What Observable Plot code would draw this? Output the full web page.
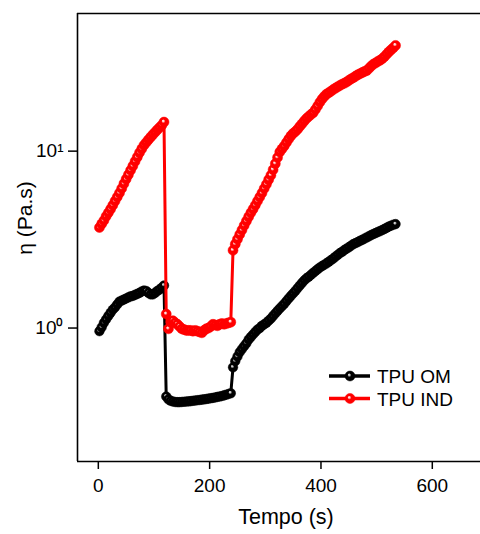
<!DOCTYPE html>
<html><head><meta charset="utf-8">
<script src="https://cdn.jsdelivr.net/npm/d3@7"></script>
<script src="https://cdn.jsdelivr.net/npm/@observablehq/plot@0.6"></script>
<style>
body{margin:0;background:#fff}
#chart{position:relative;width:480px;height:534px}
#chart svg [aria-label$="axis tick"] path{stroke-width:1.5px}
#chart svg .tick line{stroke-width:1.5px}
</style>
</head><body><div id="chart"></div>
<script>
const tempo = [2,6,10,14,18,22,26,30,34,38,42,46,50,54,58,62,66,70,74,78,82,86,90,94,98,102,106,110,114,118,
122,126,130,134,138,142,146,150,154,158,162,166,170,174,178,182,186,190,194,198,202,206,210,214,218,222,226,230,234,238,
242,246,250,254,258,262,266,270,274,278,282,286,290,294,298,302,306,310,314,318,322,326,330,334,338,342,346,350,354,358,
362,366,370,374,378,382,386,390,394,398,402,406,410,414,418,422,426,430,434,438,442,446,450,454,458,462,466,470,474,478,
482,486,490,494,498,502,506,510,514,518,522,526,530,534];

const omValues = [0.96,1.01,1.07,1.12,1.17,1.22,1.27,1.31,1.36,1.41,1.43,1.45,1.47,1.49,1.51,1.52,1.54,1.56,1.58,1.61,1.63,1.62,1.58,1.55,1.55,1.58,1.62,1.65,1.69,1.74,
0.41,0.395,0.388,0.384,0.382,0.381,0.381,0.382,0.383,0.384,0.385,0.386,0.388,0.389,0.391,0.392,0.394,0.395,0.397,0.399,0.401,0.403,0.405,0.408,0.410,0.413,0.416,0.420,0.424,0.428,
0.60,0.65,0.69,0.73,0.76,0.79,0.82,0.86,0.89,0.92,
0.95,0.98,1.00,1.03,1.05,1.07,1.10,1.13,1.17,1.21,
1.25,1.29,1.33,1.37,1.42,1.47,1.52,1.57,1.62,1.68,
1.74,1.80,1.86,1.91,1.95,2.00,2.05,2.10,2.15,2.20,
2.24,2.28,2.32,2.37,2.42,2.47,2.53,2.59,2.65,2.70,
2.76,2.81,2.86,2.92,2.98,3.02,3.06,3.11,3.15,3.20,
3.25,3.30,3.35,3.40,3.44,3.49,3.53,3.58,3.63,3.69,
3.75,3.79,3.84,3.87];

const indValues = [3.70,3.88,4.05,4.28,4.48,4.70,4.95,5.22,5.50,5.80,6.15,6.55,6.95,7.35,7.80,8.25,8.75,9.25,9.80,10.3,10.8,11.2,11.6,12.0,12.4,12.8,13.2,13.6,14.0,14.6,
1.20,0.99,1.08,1.10,1.07,1.05,1.02,0.99,0.98,0.97,0.97,0.97,0.96,0.97,0.96,0.95,0.94,0.97,0.99,1.00,1.02,1.05,1.04,1.03,1.05,1.06,1.05,1.06,1.07,1.08,
2.75,2.98,3.18,3.38,3.58,3.80,4.02,4.25,4.48,4.70,
4.95,5.22,5.50,5.80,6.15,6.50,6.90,7.30,7.85,8.50,
9.20,9.90,10.3,10.7,11.2,11.7,12.2,12.6,12.9,13.3,
13.8,14.3,14.8,15.3,15.7,16.1,16.5,17.2,18.0,18.9,
19.7,20.4,21.0,21.4,21.8,22.3,22.7,23.1,23.5,23.9,
24.2,24.6,25.1,25.6,26.0,26.5,27.0,27.4,27.8,28.2,
28.5,29.3,30.2,31.0,31.5,32.1,32.6,33.3,34.2,35.3,
36.4,37.4,38.4,39.6];

const seriesNames = ["TPU OM", "TPU IND"];
const seriesColors = ["#000000", "#ff0000"];
const xTicks = [0, 200, 400, 600];
const yTicks = [1, 10];
const yTickLabels = ["10\u2070", "10\u00B9"];
const xTitle = "Tempo (s)";
const yTitle = "\u03B7 (Pa.s)";

const xDomain = [-37.4, 686.6];
const yDomain = [0.176, 60];

const omData = tempo.map((t, i) => ({t, v: omValues[i], s: seriesNames[0]}));
const indData = tempo.map((t, i) => ({t, v: indValues[i], s: seriesNames[1]}));

const font = "'Liberation Sans', Arial, sans-serif";

const plot = Plot.plot({
  width: 480, height: 534,
  marginTop: 13, marginBottom: 73, marginLeft: 77, marginRight: 0,
  style: {fontFamily: font, fontSize: "19px", color: "#000", background: "#fff", overflow: "visible"},
  x: {domain: xDomain, ticks: xTicks, tickSize: 8, tickPadding: 9, label: null},
  y: {type: "log", domain: yDomain, ticks: yTicks, tickFormat: d => yTickLabels[yTicks.indexOf(d)], tickSize: 9, tickPadding: 5, label: null},
  marks: [
    Plot.ruleX([xDomain[0]], {stroke: "#000", strokeWidth: 1.6}),
    Plot.ruleY([yDomain[0]], {stroke: "#000", strokeWidth: 1.6}),
    Plot.ruleY([yDomain[1]], {stroke: "#000", strokeWidth: 1.6}),
    Plot.line(omData, {x: "t", y: "v", stroke: seriesColors[0], strokeWidth: 3}),
    Plot.dot(omData, {x: "t", y: "v", r: 4.8, fill: "url(#ballBlack)", stroke: seriesColors[0], strokeWidth: 0.5}),
    Plot.line(indData, {x: "t", y: "v", stroke: seriesColors[1], strokeWidth: 3}),
    Plot.dot(indData, {x: "t", y: "v", r: 5, fill: "url(#ballRed)", stroke: seriesColors[1], strokeWidth: 0.5})
  ]
});

const svg = d3.select(plot);
const defs = svg.insert("defs", ":first-child");
function ball(id, hi, col) {
  const g = defs.append("radialGradient").attr("id", id)
    .attr("cx", "50%").attr("cy", "50%").attr("r", "50%").attr("fx", "40%").attr("fy", "36%");
  g.append("stop").attr("offset", "0%").attr("stop-color", hi);
  g.append("stop").attr("offset", "14%").attr("stop-color", hi);
  g.append("stop").attr("offset", "40%").attr("stop-color", col);
  g.append("stop").attr("offset", "100%").attr("stop-color", col);
}
ball("ballBlack", "#cfcfcf", "#000");
ball("ballRed", "#ffe0e0", "#ff0000");

// axis titles
svg.append("text").text(xTitle)
  .attr("x", 286).attr("y", 524).attr("text-anchor", "middle")
  .attr("font-family", font).attr("font-size", 21.5).attr("fill", "#000");
svg.append("text").text(yTitle)
  .attr("transform", "translate(32,218) rotate(-90)").attr("text-anchor", "middle")
  .attr("font-family", font).attr("font-size", 21).attr("fill", "#000");

// legend
const leg = svg.append("g").attr("font-family", font).attr("font-size", 19).attr("text-anchor", "start");
seriesNames.forEach((name, i) => {
  const y = 376 + i * 22.5;
  leg.append("line").attr("x1", 329).attr("x2", 370).attr("y1", y).attr("y2", y)
    .attr("stroke", seriesColors[i]).attr("stroke-width", 3.5);
  leg.append("circle").attr("cx", 350).attr("cy", y).attr("r", 5)
    .attr("fill", i === 0 ? "url(#ballBlack)" : "url(#ballRed)").attr("stroke", seriesColors[i]).attr("stroke-width", 0.5);
  leg.append("text").text(name).attr("x", 377).attr("y", y + 7).attr("text-anchor", "start").attr("fill", "#000");
});

document.getElementById("chart").appendChild(plot);
</script>
</body></html>
